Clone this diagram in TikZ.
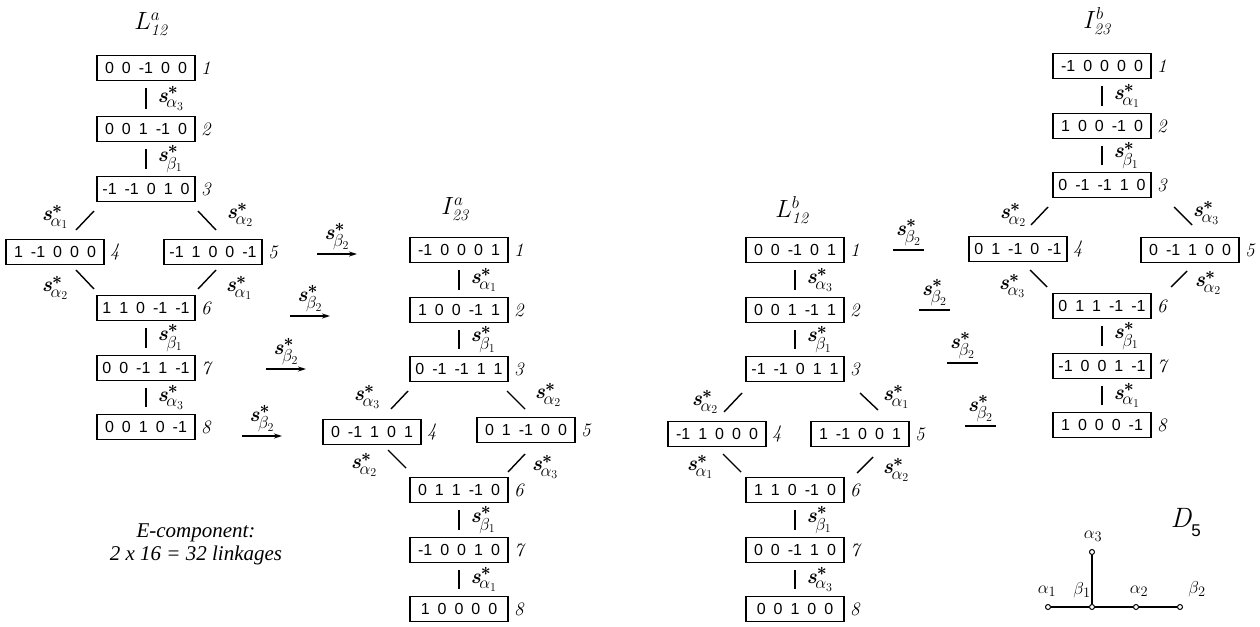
\documentclass[tikz,border=0pt]{standalone}
\usepackage{amsmath}
\usepackage{fontspec}
\newfontfamily\boxfam{Liberation Sans}
\newfontfamily\ecfam{Liberation Serif}
\usetikzlibrary{arrows.meta,calc}
\newcommand\bx{\fontsize{16}{16}\selectfont\boxfam\spaceskip=8pt\relax}
\newcommand\sst[2]{\textbf{\textit{s}}$^{\hbox{\fontsize{16}{16}\selectfont$\boldsymbol{*}$}}_{\hbox{\fontsize{17}{17}\selectfont$\kern-1.5pt#1_{#2}$}}$}
\tikzset{
 box/.style={draw, line width=1.8pt, minimum width=98pt, minimum height=25pt, inner sep=0pt, font=\bx},
 num/.style={anchor=west, font=\fontsize{19}{19}\selectfont\itshape, xshift=5pt, inner sep=0pt},
 slab/.style={font=\fontsize{21}{21}\selectfont, inner sep=0pt},
 edge/.style={line width=1.4pt},
 vedge/.style={edge, shorten <=7pt, shorten >=7pt},
 arr/.style={line width=1.4pt, -{Stealth[length=8pt,width=5pt]}},
 ttl/.style={font=\fontsize{23}{23}\selectfont},
 dot/.style={circle, draw, fill=white, inner sep=0pt, minimum size=5pt, line width=1pt},
 dlab/.style={font=\fontsize{19}{19}\selectfont, inner sep=0pt},
}
\begin{document}
\begin{tikzpicture}[x=1pt,y=-1pt]
\useasboundingbox[fill=white] (0,0) rectangle (1260,626);

% ---------------- Tree L12^a ----------------
\node[ttl] at (151,24) {$L^{a}_{\mathit{12}}$};
\node[box] (a1) at (146,68) {0 0 -1 0 0};
\node[box] (a2) at (146,129) {0 0 1 -1 0};
\node[box] (a3) at (146,189) {-1 -1 0 1 0};
\node[box] (a4) at (55,252) {1 -1 0 0 0};
\node[box] (a5) at (213,252) {-1 1 0 0 -1};
\node[box] (a6) at (146,308) {1 1 0 -1 -1};
\node[box] (a7) at (146,368) {0 0 -1 1 -1};
\node[box] (a8) at (146,427) {0 0 1 0 -1};
\foreach \i in {1,...,8} {\node[num] (an\i) at (a\i.east) {\i};}
\draw[vedge] (a1) -- (a2) node[midway, right=11pt, slab] {\sst{\alpha}{3}};
\draw[vedge] (a2) -- (a3) node[midway, right=11pt, slab] {\sst{\beta}{1}};
\draw[vedge] (a6) -- (a7) node[midway, right=11pt, slab] {\sst{\beta}{1}};
\draw[vedge] (a7) -- (a8) node[midway, right=11pt, slab] {\sst{\alpha}{3}};
\draw[edge] ($(a3)+(-52,22)$) -- ($(a3)+(-70,41)$);
\node[slab] at ($(a3)+(-91,28)$) {\sst{\alpha}{1}};
\draw[edge] ($(a3)+(52,22)$) -- ($(a3)+(70,41)$);
\node[slab] at ($(a3)+(94,26)$) {\sst{\alpha}{2}};
\draw[edge] ($(a6)+(-70,-38)$) -- ($(a6)+(-52,-19)$);
\node[slab] at ($(a6)+(-91,-20)$) {\sst{\alpha}{2}};
\draw[edge] ($(a6)+(70,-38)$) -- ($(a6)+(52,-19)$);
\node[slab] at ($(a6)+(93,-20)$) {\sst{\alpha}{1}};

% arrows L12^a -> I23^a
\coordinate (p1) at (317,254);
\coordinate (p2) at (290,316);
\coordinate (p3) at (266,369);
\coordinate (p4) at (242,436);
\foreach \k in {1,...,4} {
  \draw[arr] (p\k) -- ++(40,0) node[midway, above=3pt, slab] {\sst{\beta}{2}};
}

% E-component text
\node[font=\fontsize{21}{23}\selectfont\ecfam\itshape, align=center] (ecomp) at (196,544) {E-component:\\2 x 16 = 32 linkages};

% ---------------- Tree I23^a ----------------
\node[ttl] at (455,209) {$I^{a}_{\mathit{23}}$};
\node[box] (b1) at (459,250) {-1 0 0 0 1};
\node[box] (b2) at (459,310) {1 0 0 -1 1};
\node[box] (b3) at (459,369) {0 -1 -1 1 1};
\node[box] (b4) at (372,432) {0 -1 1 0 1};
\node[box] (b5) at (526,430) {0 1 -1 0 0};
\node[box] (b6) at (459,490) {0 1 1 -1 0};
\node[box] (b7) at (459,550) {-1 0 0 1 0};
\node[box] (b8) at (459,609) {1 0 0 0 0};
\foreach \i in {1,...,8} {\node[num] (bn\i) at (b\i.east) {\i};}
\draw[vedge] (b1) -- (b2) node[midway, right=11pt, slab] {\sst{\alpha}{1}};
\draw[vedge] (b2) -- (b3) node[midway, right=11pt, slab] {\sst{\beta}{1}};
\draw[vedge] (b6) -- (b7) node[midway, right=11pt, slab] {\sst{\beta}{1}};
\draw[vedge] (b7) -- (b8) node[midway, right=11pt, slab] {\sst{\alpha}{1}};
\draw[edge] ($(b3)+(-51,22)$) -- ($(b3)+(-68,40)$);
\node[slab] at ($(b3)+(-92,28)$) {\sst{\alpha}{3}};
\draw[edge] ($(b3)+(48,22)$) -- ($(b3)+(66,40)$);
\node[slab] at ($(b3)+(89,26)$) {\sst{\alpha}{2}};
\draw[edge] ($(b6)+(-71,-40)$) -- ($(b6)+(-53,-22)$);
\node[slab] at ($(b6)+(-95,-25)$) {\sst{\alpha}{2}};
\draw[edge] ($(b6)+(66,-36)$) -- ($(b6)+(49,-18)$);
\node[slab] at ($(b6)+(86,-23)$) {\sst{\alpha}{3}};

% ---------------- Tree L12^b ----------------
\node[ttl] at (792,210) {$L^{b}_{\mathit{12}}$};
\node[box] (c1) at (795,250) {0 0 -1 0 1};
\node[box] (c2) at (795,310) {0 0 1 -1 1};
\node[box] (c3) at (795,369) {-1 -1 0 1 1};
\node[box] (c4) at (717,434) {-1 1 0 0 0};
\node[box] (c5) at (860,434) {1 -1 0 0 1};
\node[box] (c6) at (795,490) {1 1 0 -1 0};
\node[box] (c7) at (795,550) {0 0 -1 1 0};
\node[box] (c8) at (795,609) {0 0 1 0 0};
\foreach \i in {1,...,8} {\node[num] (cn\i) at (c\i.east) {\i};}
\draw[vedge] (c1) -- (c2) node[midway, right=11pt, slab] {\sst{\alpha}{3}};
\draw[vedge] (c2) -- (c3) node[midway, right=11pt, slab] {\sst{\beta}{1}};
\draw[vedge] (c6) -- (c7) node[midway, right=11pt, slab] {\sst{\beta}{1}};
\draw[vedge] (c7) -- (c8) node[midway, right=11pt, slab] {\sst{\alpha}{3}};
\draw[edge] ($(c3)+(-53,24)$) -- ($(c3)+(-71,43)$);
\node[slab] at ($(c3)+(-90,33)$) {\sst{\alpha}{2}};
\draw[edge] ($(c3)+(65,24)$) -- ($(c3)+(83,41)$);
\node[slab] at ($(c3)+(101,28)$) {\sst{\alpha}{1}};
\draw[edge] ($(c6)+(-72,-36)$) -- ($(c6)+(-54,-18)$);
\node[slab] at ($(c6)+(-95,-23)$) {\sst{\alpha}{1}};
\draw[edge] ($(c6)+(78,-33)$) -- ($(c6)+(62,-17)$);
\node[slab] at ($(c6)+(101,-20)$) {\sst{\alpha}{2}};

% lines L12^b -- I23^b
\coordinate (q1) at (893,250);
\coordinate (q2) at (919,310);
\coordinate (q3) at (947,363);
\coordinate (q4) at (965,426);
\foreach \k in {1,...,4} {
  \draw[edge] (q\k) -- ++(31,0) node[midway, above=3pt, slab] {\sst{\beta}{2}};
}

% ---------------- Tree I23^b ----------------
\node[ttl] at (1097,21) {$I^{b}_{\mathit{23}}$};
\node[box] (d1) at (1102,66) {-1 0 0 0 0};
\node[box] (d2) at (1102,126) {1 0 0 -1 0};
\node[box] (d3) at (1102,185) {0 -1 -1 1 0};
\node[box] (d4) at (1018,249) {0 1 -1 0 -1};
\node[box] (d5) at (1190,250) {0 -1 1 0 0};
\node[box] (d6) at (1102,306) {0 1 1 -1 -1};
\node[box] (d7) at (1102,366) {-1 0 0 1 -1};
\node[box] (d8) at (1102,425) {1 0 0 0 -1};
\foreach \i in {1,...,8} {\node[num] (dn\i) at (d\i.east) {\i};}
\draw[vedge] (d1) -- (d2) node[midway, right=11pt, slab] {\sst{\alpha}{1}};
\draw[vedge] (d2) -- (d3) node[midway, right=11pt, slab] {\sst{\beta}{1}};
\draw[vedge] (d6) -- (d7) node[midway, right=11pt, slab] {\sst{\beta}{1}};
\draw[vedge] (d7) -- (d8) node[midway, right=11pt, slab] {\sst{\alpha}{1}};
\draw[edge] ($(d3)+(-54,22)$) -- ($(d3)+(-71,40)$);
\node[slab] at ($(d3)+(-89,30)$) {\sst{\alpha}{2}};
\draw[edge] ($(d3)+(72,22)$) -- ($(d3)+(90,40)$);
\node[slab] at ($(d3)+(104,28)$) {\sst{\alpha}{3}};
\draw[edge] ($(d6)+(-72,-36)$) -- ($(d6)+(-55,-19)$);
\node[slab] at ($(d6)+(-90,-20)$) {\sst{\alpha}{3}};
\draw[edge] ($(d6)+(85,-35)$) -- ($(d6)+(69,-19)$);
\node[slab] at ($(d6)+(106,-23)$) {\sst{\alpha}{2}};

% ---------------- D5 diagram ----------------
\node[font=\fontsize{28}{28}\selectfont\itshape, inner sep=0pt] (dtitle) at (1181,518) {D};
\node[font=\fontsize{17}{17}\selectfont\boxfam, inner sep=0pt] (dsub) at (1196,531) {5};
\node[dot] (e1) at (1048,607) {};
\node[dot] (e2) at (1092,607) {};
\node[dot] (e3) at (1136,607) {};
\node[dot] (e4) at (1180,607) {};
\node[dot] (e5) at (1092,552) {};
\draw[line width=1.4pt] (e1) -- (e2) -- (e3) -- (e4);
\draw[line width=1.4pt] (e2) -- (e5);
\node[dlab] at (1047,591) {$\alpha_1$};
\node[dlab] at (1082,590) {$\beta_1$};
\node[dlab] at (1139,591) {$\alpha_2$};
\node[dlab] at (1197,589) {$\beta_2$};
\node[dlab] at (1093,536) {$\alpha_3$};
\end{tikzpicture}
\end{document}
